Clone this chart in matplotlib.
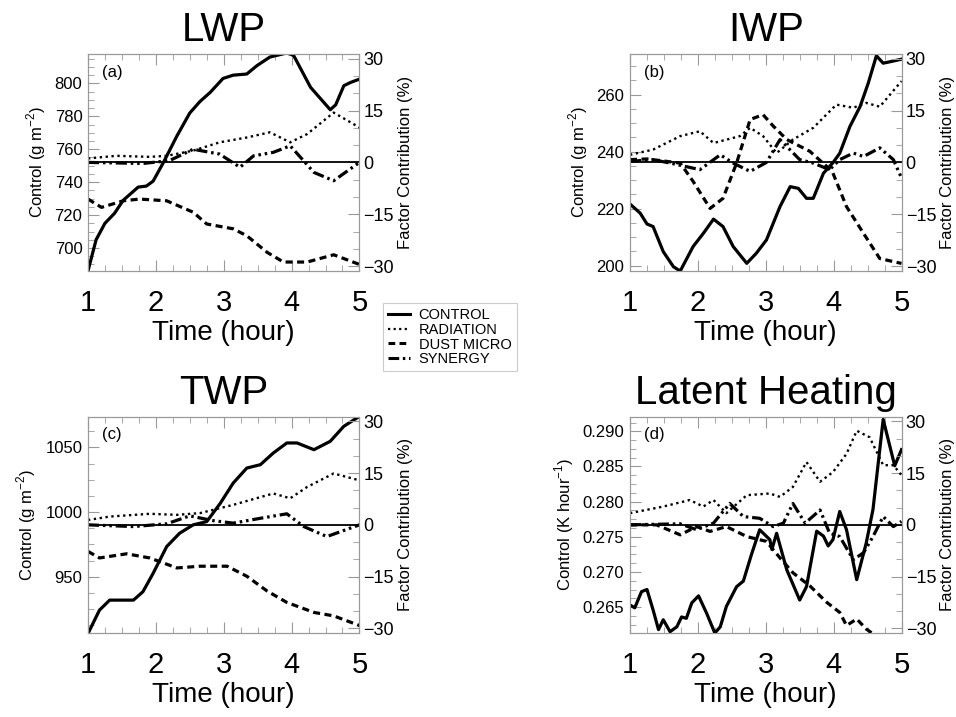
import matplotlib
matplotlib.use("Agg")
import matplotlib.pyplot as plt
from matplotlib.lines import Line2D
from matplotlib.ticker import AutoMinorLocator, MultipleLocator

plt.rcParams['font.family'] = ['Liberation Sans', 'DejaVu Sans']
plt.rcParams['mathtext.fontset'] = 'custom'
plt.rcParams['mathtext.rm'] = 'Liberation Sans'

# ---------------- data ----------------
# (a) LWP
lwp_ctl_t = [1.0, 1.12, 1.25, 1.39, 1.52, 1.74, 1.86, 1.96, 2.11, 2.31, 2.50, 2.65, 2.80, 2.99, 3.14,
             3.34, 3.49, 3.68, 3.93, 4.03, 4.28, 4.57, 4.65, 4.77, 4.87, 5.0]
lwp_ctl = [686, 705, 715, 721, 729, 737, 737.6, 740.6, 751.8, 768, 782, 789, 794.5, 803, 805,
           805.7, 810.8, 816, 818.5, 817, 797.6, 784, 787, 798.6, 800.6, 802.6]
lwp_rad_t = [1.0, 1.42, 1.91, 2.16, 2.55, 2.94, 3.34, 3.68, 3.98, 4.23, 4.62, 5.0]
lwp_rad = [1.15, 1.9, 1.6, 1.9, 3.4, 5.8, 7.2, 8.7, 5.8, 8.2, 14.4, 10.1]
lwp_dust_t = [1.0, 1.2, 1.52, 1.76, 2.16, 2.55, 2.75, 3.14, 3.34, 3.64, 3.88, 4.23, 4.62, 5.0]
lwp_dust = [-10.6, -13, -11.1, -10.6, -11.1, -14.4, -17.8, -19.2, -21.2, -26, -28.8, -28.8, -26.7, -29.5]
lwp_syn_t = [1.0, 1.81, 2.2, 2.55, 2.94, 3.24, 3.44, 3.73, 3.98, 4.33, 4.62, 5.0]
lwp_syn = [0, -0.3, 0.5, 3.8, 2.4, -1.4, 1.9, 2.9, 4.8, -2.9, -5.3, 0]

# (b) IWP
iwp_ctl_t = [1.0, 1.15, 1.25, 1.34, 1.49, 1.64, 1.74, 1.93, 2.08, 2.23, 2.37, 2.52, 2.72, 2.86, 3.01,
             3.21, 3.36, 3.48, 3.6, 3.7, 3.85, 3.99, 4.09, 4.24, 4.39, 4.51, 4.63, 4.73, 4.85, 5.0]
iwp_ctl = [221.6, 218.4, 214.6, 213.7, 204.9, 199.6, 198.1, 206.7, 211.3, 216.3, 213.7, 206.7, 200.8,
           204.3, 209, 220.7, 227.7, 227.1, 223.6, 223.6, 232.4, 236.1, 239.4, 248.8, 255.8, 264,
           273.6, 271, 271.6, 272.4]
iwp_rad_t = [1.0, 1.34, 1.74, 2.03, 2.23, 2.62, 2.77, 2.96, 3.16, 3.4, 3.7, 4.04, 4.29, 4.48, 4.68, 5.0]
iwp_rad = [2.2, 3.7, 7.6, 9, 5.6, 7.6, 10, 7.6, 2.7, 6.6, 10, 16.7, 15.8, 17.2, 16.1, 23.5]
iwp_dust_t = [1.0, 1.25, 1.54, 1.74, 1.93, 2.18, 2.37, 2.57, 2.77, 2.96, 3.11, 3.31, 3.65, 3.9, 3.99,
              4.19, 4.44, 4.68, 5.0]
iwp_dust = [0.8, 1, 0.3, -0.2, -5.5, -13.3, -10.4, -0.2, 12.4, 13.8, 10.5, 6.6, 3.2, -1.2, -3.1,
            -12.8, -20.5, -27.8, -29.2]
iwp_syn_t = [1.0, 1.34, 1.64, 2.03, 2.33, 2.52, 2.77, 3.01, 3.21, 3.5, 3.7, 3.94, 4.09, 4.29, 4.44,
             4.68, 4.88, 5.0]
iwp_syn = [0.3, 0.8, -0.4, -2.1, 2.2, -0.2, -2.6, 0, 6.6, 0.8, -0.2, -2.1, 0.8, 2.7, 1.7, 4.2, 0.8, -4.5]

# (c) TWP
twp_ctl_t = [1.0, 1.17, 1.32, 1.52, 1.67, 1.81, 1.96, 2.16, 2.35, 2.55, 2.75, 2.95, 3.14, 3.34, 3.54,
             3.73, 3.93, 4.08, 4.33, 4.57, 4.77, 5.0]
twp_ctl = [906, 924.2, 931.9, 931.9, 931.9, 938.4, 952.6, 973.3, 983.6, 990.1, 992.6, 1006.8, 1022.4,
           1034, 1036.6, 1045.6, 1053.4, 1053.4, 1048.2, 1054.7, 1066.3, 1074]
twp_rad_t = [1.0, 1.32, 1.91, 2.31, 2.65, 3.14, 3.73, 3.98, 4.23, 4.62, 5.0]
twp_rad = [1.4, 2.4, 3.2, 2.9, 3.4, 5.8, 9.1, 7.7, 11, 14.9, 12.9]
twp_dust_t = [1.0, 1.17, 1.57, 1.91, 2.31, 2.65, 3.05, 3.34, 3.64, 3.93, 4.33, 4.62, 5.0]
twp_dust = [-7.7, -9.6, -8.4, -9.6, -12.5, -12, -12, -14.9, -19.2, -22.5, -25.4, -26.4, -29.2]
twp_syn_t = [1.0, 1.67, 2.16, 2.5, 2.85, 3.14, 3.54, 3.93, 4.18, 4.52, 5.0]
twp_syn = [0, -0.5, 0.3, 2.6, 1.2, 0.5, 1.9, 3.2, -0.5, -3.4, 0]

# (d) Latent heating
lh_ctl_t = [1.0, 1.07, 1.17, 1.25, 1.34, 1.42, 1.49, 1.59, 1.69, 1.76, 1.83, 1.91, 2.01, 2.13, 2.25,
            2.33, 2.42, 2.57, 2.67, 2.79, 2.91, 3.06, 3.09, 3.16, 3.31, 3.5, 3.6, 3.75, 3.85, 3.92,
            3.99, 4.09, 4.19, 4.34, 4.48, 4.58, 4.73, 4.9, 5.0]
lh_ctl = [0.2653, 0.2649, 0.2672, 0.2675, 0.2646, 0.2618, 0.2632, 0.2615, 0.2622, 0.2636, 0.2634,
          0.2656, 0.2666, 0.2641, 0.2613, 0.2622, 0.2651, 0.2679, 0.2687, 0.2725, 0.2760, 0.2746,
          0.2732, 0.2755, 0.2703, 0.2660, 0.2679, 0.2758, 0.2751, 0.2737, 0.2746, 0.2786, 0.2760,
          0.2689, 0.2741, 0.2789, 0.2917, 0.2851, 0.2874]
lh_rad_t = [1.0, 1.49, 1.88, 2.08, 2.23, 2.42, 2.72, 3.06, 3.21, 3.4, 3.6, 3.8, 3.99, 4.19, 4.34,
            4.53, 4.73, 4.88, 5.0]
lh_rad = [3.4, 5.3, 7.2, 5.3, 7.2, 3.4, 8.6, 9.1, 8.1, 11, 18.2, 12.5, 15.3, 20.6, 27.3, 25.4,
          17.3, 17.3, 14.4]
lh_dust_t = [1.0, 1.39, 1.74, 1.98, 2.18, 2.42, 2.72, 3.01, 3.21, 3.4, 3.65, 3.9, 4.09, 4.19, 4.34,
             4.48, 4.68, 5.0]
lh_dust = [0, 0, -2.9, -0.5, -1.9, -0.5, -3.4, -4.8, -9.6, -13.9, -17.7, -22.5, -25.4, -29.2, -27.3,
           -30.2, -33, -34]
lh_syn_t = [1.0, 1.74, 1.98, 2.23, 2.33, 2.47, 2.67, 2.91, 3.11, 3.26, 3.4, 3.58, 3.8, 3.94, 4.09,
            4.29, 4.44, 4.58, 4.73, 4.88, 5.0]
lh_syn = [0, 0.3, -1.4, 0.5, 2.9, 6.2, 2.4, 1.9, -0.5, 0.5, 6.2, 0.5, 4.3, -2.4, -3.4, -10.1, -8.1,
          -3.4, 2.4, -0.5, 1]

titles = ['LWP', 'IWP', 'TWP', 'Latent Heating']
tags = ['(a)', '(b)', '(c)', '(d)']
ylabels = ['Control (g m$^{-2}$)', 'Control (g m$^{-2}$)', 'Control (g m$^{-2}$)',
           'Control (K hour$^{-1}$)']
ylims = [(686, 818), (198.1, 274.3), (906.4, 1073.8), (0.2613, 0.2921)]
yticks = [[700, 720, 740, 760, 780, 800], [200, 220, 240, 260], [950, 1000, 1050],
          [0.265, 0.270, 0.275, 0.280, 0.285, 0.290]]
series = [
    (lwp_ctl_t, lwp_ctl, lwp_rad_t, lwp_rad, lwp_dust_t, lwp_dust, lwp_syn_t, lwp_syn),
    (iwp_ctl_t, iwp_ctl, iwp_rad_t, iwp_rad, iwp_dust_t, iwp_dust, iwp_syn_t, iwp_syn),
    (twp_ctl_t, twp_ctl, twp_rad_t, twp_rad, twp_dust_t, twp_dust, twp_syn_t, twp_syn),
    (lh_ctl_t, lh_ctl, lh_rad_t, lh_rad, lh_dust_t, lh_dust, lh_syn_t, lh_syn),
]

# ---------------- styles ----------------
frame = '0.6'
rad_ls = (0, (1, 1.5))
dust_ls = (0, (2.2, 1.4))
syn_ls = (0, (3.5, 1.2, 0.8, 1.2, 0.8, 1.2))

fig = plt.figure(figsize=(9.56, 7.17), dpi=100)
positions = [[0.092, 0.622, 0.284, 0.303], [0.659, 0.622, 0.284, 0.303],
             [0.092, 0.117, 0.284, 0.302], [0.659, 0.117, 0.284, 0.302]]

for i in range(4):
    ct, cv, rt, rv, dt, dv, st, sv = series[i]
    ax = fig.add_axes(positions[i])
    ax.plot(ct, cv, color='black', lw=2.3, zorder=5)
    ax.set_xlim(1, 5)
    ax.set_ylim(*ylims[i])
    ax.set_yticks(yticks[i])
    if i == 3:
        ax.set_yticklabels(['%.3f' % v for v in yticks[i]])
    ax.xaxis.set_major_locator(MultipleLocator(1))
    ax.xaxis.set_minor_locator(AutoMinorLocator(4))
    ax.yaxis.set_minor_locator(AutoMinorLocator(4))
    ax.tick_params(which='both', direction='in', color=frame, top=True, right=False)
    ax.tick_params(which='major', length=8, width=0.8)
    ax.tick_params(which='minor', length=4, width=0.6)
    ax.tick_params(axis='x', labelsize=21, pad=13)
    ax.tick_params(axis='y', labelsize=12, pad=4)
    for s in ax.spines.values():
        s.set_color(frame)
    ax.set_xlabel('Time (hour)', fontsize=20, labelpad=2)
    ax.set_ylabel(ylabels[i], fontsize=12, labelpad=5)
    ax.set_title(titles[i], fontsize=29, pad=9)
    ax.text(0.05, 0.95, tags[i], transform=ax.transAxes, fontsize=12, va='top', ha='left')

    ax2 = ax.twinx()
    ax2.axhline(0, color='black', lw=1.3)
    ax2.plot(rt, rv, color='black', lw=1.7, ls=rad_ls)
    ax2.plot(dt, dv, color='black', lw=2.3, ls=dust_ls)
    ax2.plot(st, sv, color='black', lw=2.3, ls=syn_ls)
    ax2.set_ylim(-31.4, 31.4)
    ax2.set_yticks([-30, -15, 0, 15, 30])
    ax2.yaxis.set_minor_locator(AutoMinorLocator(3))
    ax2.tick_params(which='both', direction='in', color=frame)
    ax2.tick_params(which='major', length=8, width=0.8, labelsize=13, pad=3)
    ax2.tick_params(which='minor', length=4, width=0.6)
    for s in ax2.spines.values():
        s.set_color(frame)
    ax2.set_ylabel('Factor Contribution (%)', fontsize=12, labelpad=3)
    ax2.set_xlim(1, 5)

handles = [Line2D([], [], color='black', lw=2.2),
           Line2D([], [], color='black', lw=1.6, ls=rad_ls),
           Line2D([], [], color='black', lw=2.2, ls=dust_ls),
           Line2D([], [], color='black', lw=2.2, ls=syn_ls)]
leg = fig.legend(handles, ['CONTROL', 'RADIATION', 'DUST MICRO', 'SYNERGY'],
                 loc='upper left', bbox_to_anchor=(383 / 956, 1 - 303 / 717),
                 fontsize=10.5, frameon=True, fancybox=False, handlelength=1.5,
                 handletextpad=0.6, labelspacing=0.05, borderpad=0.35, borderaxespad=0)
leg.get_frame().set_edgecolor('0.75')
leg.get_frame().set_linewidth(0.8)

fig.savefig('out.png', dpi=100)
